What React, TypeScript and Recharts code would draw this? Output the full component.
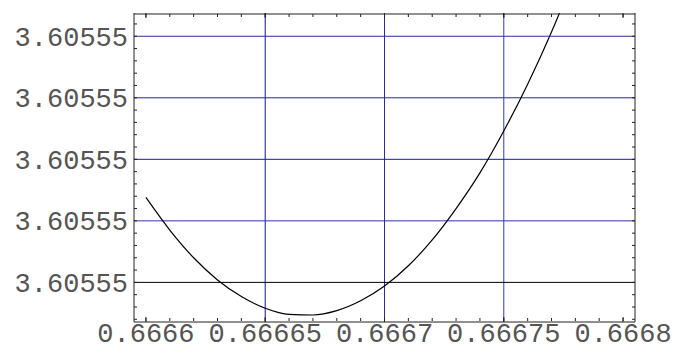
import React from "react";
import { LineChart, Line, XAxis, YAxis, ReferenceLine } from "recharts";

// Sampled curve: x positions and function values
const xValues = [
  0.6666, 0.66661, 0.66662, 0.66663, 0.66664, 0.66665, 0.66666, 0.66667, 0.66668, 0.66669,
  0.6667, 0.66671, 0.66672, 0.66673, 0.66674, 0.66675, 0.66676, 0.66677, 0.66678,
];
const yValues = [
  3.60555127738, 3.60555127685, 3.6055512764, 3.60555127604, 3.60555127577, 3.60555127558,
  3.60555127548, 3.60555127547, 3.60555127554, 3.6055512757, 3.60555127594, 3.60555127627,
  3.60555127669, 3.6055512772, 3.60555127778, 3.60555127846, 3.60555127922, 3.60555128007,
  3.60555128101,
];

// Axis ticks and labels
const xTicks = [0.6666, 0.66665, 0.6667, 0.66675, 0.6668];
const xTickLabels = ["0.6666", "0.66665", "0.6667", "0.66675", "0.6668"];
const yTicks = [3.605551276, 3.605551277, 3.605551278, 3.605551279, 3.60555128];
const yTickLabels = ["3.60555", "3.60555", "3.60555", "3.60555", "3.60555"];

// Grid lines (x positions / y levels) with their colours
const xGrid = [0.66665, 0.6667, 0.66675];
const xGridColors = ["#14147e", "#2a2aa8", "#3a3ab0"];
const yGrid = [3.605551276, 3.605551277, 3.605551278, 3.605551279, 3.60555128];
const yGridColors = ["#000000", "#3434a6", "#1a1a96", "#26269c", "#2e2ea6"];

const xDomain: [number, number] = [0.666595, 0.666805];
const yDomain: [number, number] = [3.605551275356, 3.605551280378];

const xMinorTicks: number[] = [];
for (let k = 0; k <= 20; k++) xMinorTicks.push(Number((0.6666 + k * 0.00001).toFixed(6)));
const yMinorTicks: number[] = [];
for (let k = 0; k <= 24; k++) yMinorTicks.push(Number((3.6055512754 + k * 2e-10).toFixed(11)));

const data = xValues.map((x, i) => ({ x, y: yValues[i] }));

const tickFont = { fontFamily: "Liberation Mono", fontSize: 27, fill: "#555" };
const frame = { stroke: "#222", strokeWidth: 1 };
const tickMark = { stroke: "#222" };
const noLabel = () => <g />;

export default function App() {
  return (
    <div style={{ position: "absolute", left: 0, top: 0, background: "#fff" }}>
      <LineChart
        width={675}
        height={350}
        data={data}
        margin={{ top: 13, right: 40, bottom: 0, left: 0 }}
      >
        <XAxis
          xAxisId="main"
          dataKey="x"
          type="number"
          domain={xDomain}
          allowDataOverflow
          ticks={xTicks}
          interval={0}
          height={28}
          tickSize={0}
          tickMargin={1}
          tickLine={false}
          axisLine={frame}
          tick={tickFont}
          tickFormatter={(v: number) => xTickLabels[xTicks.indexOf(v)] ?? ""}
        />
        <XAxis
          xAxisId="minorBottom"
          dataKey="x"
          type="number"
          domain={xDomain}
          allowDataOverflow
          ticks={xMinorTicks}
          interval={0}
          height={1}
          mirror
          tickSize={3}
          tick={noLabel}
          axisLine={false}
          tickLine={tickMark}
        />
        <XAxis
          xAxisId="majorBottom"
          dataKey="x"
          type="number"
          domain={xDomain}
          allowDataOverflow
          ticks={xTicks}
          interval={0}
          height={1}
          mirror
          tickSize={5}
          tick={noLabel}
          axisLine={false}
          tickLine={tickMark}
        />
        <XAxis
          xAxisId="minorTop"
          dataKey="x"
          orientation="top"
          type="number"
          domain={xDomain}
          allowDataOverflow
          ticks={xMinorTicks}
          interval={0}
          height={1}
          mirror
          tickSize={3}
          tick={noLabel}
          axisLine={frame}
          tickLine={tickMark}
        />
        <XAxis
          xAxisId="majorTop"
          dataKey="x"
          orientation="top"
          type="number"
          domain={xDomain}
          allowDataOverflow
          ticks={xTicks}
          interval={0}
          height={1}
          mirror
          tickSize={5}
          tick={noLabel}
          axisLine={false}
          tickLine={tickMark}
        />
        <YAxis
          yAxisId="main"
          type="number"
          domain={yDomain}
          allowDataOverflow
          ticks={yTicks}
          interval={0}
          width={134}
          tickSize={0}
          tickMargin={6}
          tickLine={false}
          axisLine={frame}
          tick={tickFont}
          tickFormatter={(v: number) => yTickLabels[yTicks.indexOf(v)] ?? ""}
        />
        <YAxis
          yAxisId="minorLeft"
          type="number"
          domain={yDomain}
          allowDataOverflow
          ticks={yMinorTicks}
          interval={0}
          width={1}
          mirror
          tickSize={3}
          tick={noLabel}
          axisLine={false}
          tickLine={tickMark}
        />
        <YAxis
          yAxisId="minorRight"
          orientation="right"
          type="number"
          domain={yDomain}
          allowDataOverflow
          ticks={yMinorTicks}
          interval={0}
          width={1}
          mirror
          tickSize={3}
          tick={noLabel}
          axisLine={frame}
          tickLine={tickMark}
        />
        {xGrid.map((v, i) => (
          <ReferenceLine
            key={`xg${i}`}
            x={v}
            xAxisId="main"
            yAxisId="main"
            stroke={xGridColors[i]}
            strokeWidth={1}
          />
        ))}
        {yGrid.map((v, i) => (
          <ReferenceLine
            key={`yg${i}`}
            y={v}
            xAxisId="main"
            yAxisId="main"
            stroke={yGridColors[i]}
            strokeWidth={1}
          />
        ))}
        <Line
          xAxisId="main"
          yAxisId="main"
          dataKey="y"
          type="monotone"
          stroke="#000"
          strokeWidth={1.2}
          dot={false}
          isAnimationActive={false}
        />
      </LineChart>
    </div>
  );
}
